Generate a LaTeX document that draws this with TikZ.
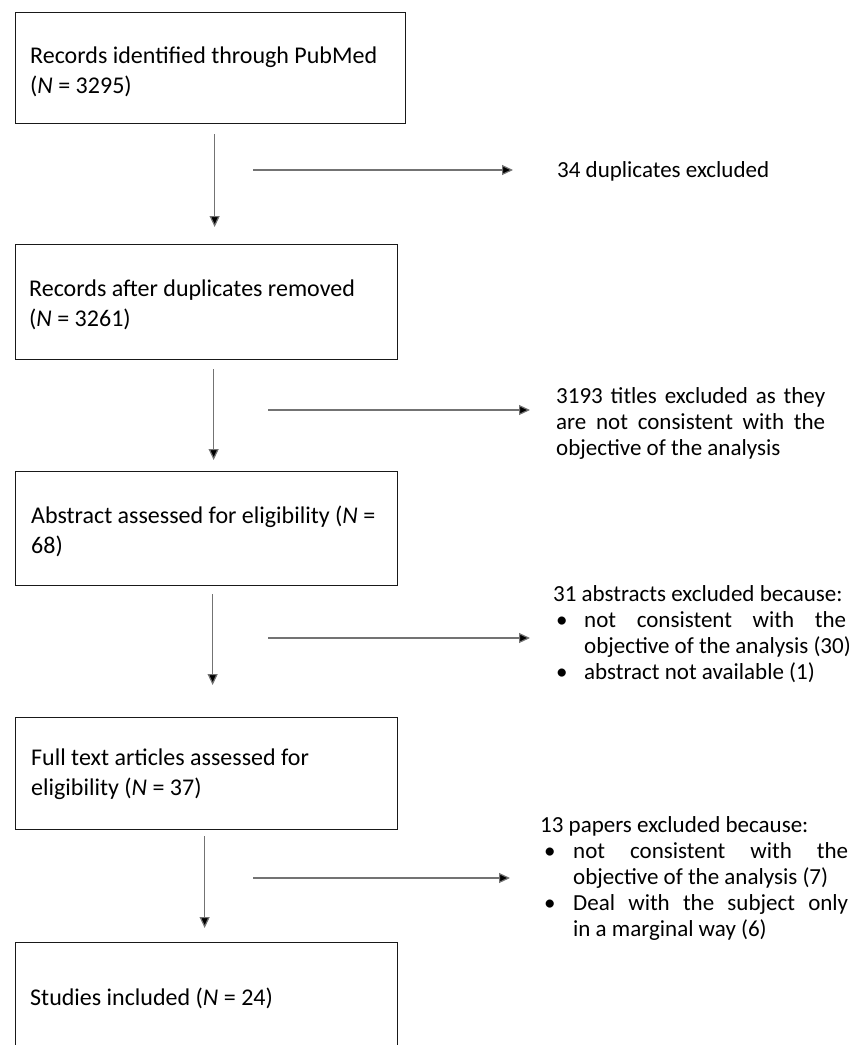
\documentclass[tikz,border=0pt]{standalone}
\usepackage{fontspec}
\setmainfont{Carlito}
\usetikzlibrary{arrows.meta}

\begin{document}
\begin{tikzpicture}[x=1pt, y=-1pt,
    box/.style={
      rectangle,
      draw=black!90,
      line width=1.3pt,
      anchor=north west,
      minimum width=382pt,
      inner sep=0pt
    },
    boxtext/.style={anchor=base west, align=left, inner sep=0pt,
      font=\fontsize{24}{30}\selectfont},
    side/.style={anchor=base west, align=left, inner sep=0pt,
      font=\fontsize{23}{26}\selectfont},
    arrow/.style={-{Triangle[length=11pt,width=10pt,fill=black]}, line width=1.2pt, draw=black!55}
  ]
    \useasboundingbox (0,0) rectangle (853,1045);
    \clip (0,0) rectangle (853,1045);

    % boxes
    \node[box, minimum width=390pt, minimum height=111pt] (pubmed) at (15,12) {};
    \node[box, minimum height=115pt] (dedup) at (15,244) {};
    \node[box, minimum height=114pt] (abstr) at (15,471) {};
    \node[box, minimum height=112pt] (full) at (15,717) {};
    \node[box, minimum height=115pt] (incl) at (15,942) {};

    % box texts (base = last line)
    \node[boxtext] (pubmedtxt) at ([xshift=15pt,yshift=-81pt]pubmed.north west)
      {Records identified through PubMed\\(\textit{N} = 3295)};
    \node[boxtext] (deduptxt) at ([xshift=14pt,yshift=-82pt]dedup.north west)
      {Records after duplicates removed\\(\textit{N} = 3261)};
    \node[boxtext] (abstrtxt) at ([xshift=16pt,yshift=-82pt]abstr.north west)
      {Abstract assessed for eligibility (\textit{N} =\\68)};
    \node[boxtext] (fulltxt) at ([xshift=16pt,yshift=-78pt]full.north west)
      {Full text articles assessed for\\eligibility (\textit{N} = 37)};
    \node[boxtext] (incltxt) at ([xshift=15pt,yshift=-63pt]incl.north west)
      {Studies included (\textit{N} = 24)};

    % exclusions
    \node[side] (dupes) at (557,177) {34 duplicates excluded};
    \node[side] (titles) at (556,455)
      {\makebox[269pt][s]{3193 titles excluded as they}\\
       \makebox[269pt][s]{are not consistent with the}\\
       objective of the analysis};
    \node[side] (abstrex) at (553,679)
      {31 abstracts excluded because:\\
       \hspace*{3pt}\makebox[28pt][l]{•}\makebox[262pt][s]{not consistent with the}\\
       \hspace*{31pt}objective of the analysis (30)\\
       \hspace*{3pt}\makebox[28pt][l]{•}abstract not available (1)};
    \node[side] (papers) at (540,936)
      {13 papers excluded because:\\
       \hspace*{4pt}\makebox[29pt][l]{•}\makebox[275pt][s]{not consistent with the}\\
       \hspace*{33pt}objective of the analysis (7)\\
       \hspace*{4pt}\makebox[29pt][l]{•}\makebox[275pt][s]{Deal with the subject only}\\
       \hspace*{33pt}in a marginal way (6)};

    % flow
    \draw[arrow, shorten <=10pt, shorten >=17pt] ([xshift=4pt]pubmed.south) -- ([xshift=4pt]pubmed.south |- dedup.north);
    \draw[arrow, shorten <=9pt, shorten >=11pt] ([xshift=7pt]dedup.south) -- ([xshift=7pt]dedup.south |- abstr.north);
    \draw[arrow, shorten <=8pt, shorten >=32pt] ([xshift=6pt]abstr.south) -- ([xshift=6pt]abstr.south |- full.north);
    \draw[arrow, shorten <=6pt, shorten >=14pt] ([xshift=-2pt]full.south) -- ([xshift=-2pt]full.south |- incl.north);

    \coordinate (h1) at (253,170);
    \coordinate (h2) at (268,410);
    \coordinate (h3) at (268,638);
    \coordinate (h4) at (253,878);
    \draw[arrow, shorten >=44pt] (h1) -- (h1 -| dupes.west);
    \draw[arrow, shorten >=26pt] (h2) -- (h2 -| titles.west);
    \draw[arrow, shorten >=23pt] (h3) -- (h3 -| abstrex.west);
    \draw[arrow, shorten >=30pt] (h4) -- (h4 -| papers.west);
  \end{tikzpicture}
\end{document}
